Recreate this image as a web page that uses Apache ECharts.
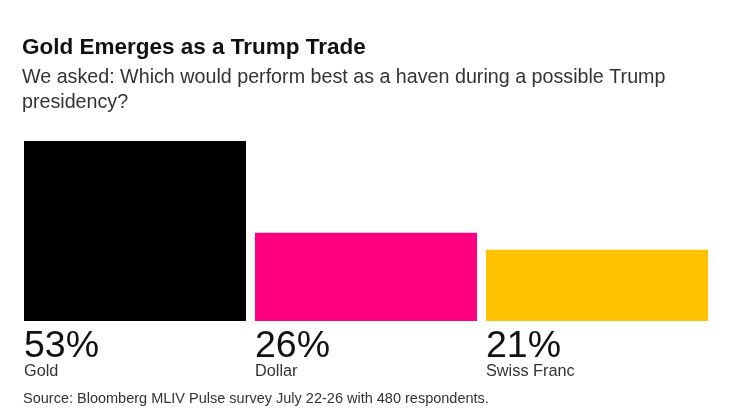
<!DOCTYPE html>
<html>
<head>
<meta charset="utf-8">
<style>
  html, body { margin: 0; padding: 0; background: #fff; }
  #chart { width: 752px; height: 420px; }
</style>
<script src="https://cdn.jsdelivr.net/npm/echarts@6/dist/echarts.min.js"></script>
</head>
<body>
<div id="chart"></div>
<script>
var categories = ['Gold', 'Dollar', 'Swiss Franc'];
var shares = [53, 26, 21];
var colors = ['#000000', '#ff0083', '#ffc100'];

var FONT = '"Liberation Sans", Arial, sans-serif';

var chart = echarts.init(document.getElementById('chart'));

chart.setOption({
  animation: false,
  backgroundColor: '#ffffff',
  title: [
    {
      text: 'Gold Emerges as a Trump Trade',
      left: 22, top: 36, padding: 0,
      textStyle: { fontFamily: FONT, fontSize: 22.5, fontWeight: 'bold', color: '#111' }
    },
    {
      text: 'We asked: Which would perform best as a haven during a possible Trump\npresidency?',
      left: 22, top: 65, padding: 0,
      textStyle: { fontFamily: FONT, fontSize: 19.7, fontWeight: 'normal', color: '#333', lineHeight: 25 }
    },
    {
      text: 'Source: Bloomberg MLIV Pulse survey July 22-26 with 480 respondents.',
      left: 23, top: 391, padding: 0,
      textStyle: { fontFamily: FONT, fontSize: 14.5, fontWeight: 'normal', color: '#333' }
    }
  ],
  grid: { left: 19.5, width: 693, top: 141, height: 180 },
  xAxis: {
    type: 'category',
    data: categories,
    axisLine: { show: false },
    axisTick: { show: false },
    axisLabel: {
      interval: 0,
      margin: 8,
      width: 222,
      overflow: 'none',
      formatter: function (value, index) {
        return '{pct|' + shares[index] + '%}\n{name|' + value + '}';
      },
      rich: {
        pct: { fontFamily: FONT, fontSize: 37.5, lineHeight: 35, color: '#111', width: 222, align: 'left' },
        name: { fontFamily: FONT, fontSize: 16.3, lineHeight: 16, color: '#333', width: 222, align: 'left' }
      }
    }
  },
  yAxis: { type: 'value', min: 0, max: 53, show: false },
  series: [{
    type: 'bar',
    barWidth: 222,
    data: shares.map(function (v, i) {
      return { value: v, itemStyle: { color: colors[i] } };
    })
  }]
});
</script>
</body>
</html>
